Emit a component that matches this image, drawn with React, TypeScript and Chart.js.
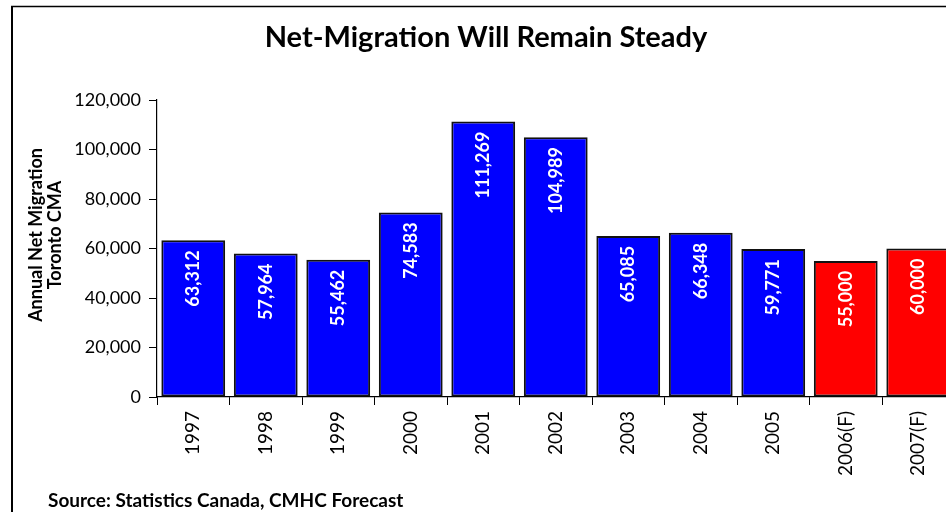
import React, { useEffect, useRef } from "react";
import { Chart, registerables } from "chart.js";

Chart.register(...registerables);

const categories = ["1997", "1998", "1999", "2000", "2001", "2002", "2003", "2004", "2005", "2006(F)", "2007(F)"];
const values = [63312, 57964, 55462, 74583, 111269, 104989, 65085, 66348, 59771, 55000, 60000];
const isForecast = [false, false, false, false, false, false, false, false, false, true, true];
const yMin = 0;
const yMax = 120000;
const yStep = 20000;
const titleText = "Net-Migration Will Remain Steady";
const yAxisTitleLines = ["Annual Net Migration", "Toronto CMA"];
const sourceText = "Source: Statistics Canada, CMHC Forecast";

const ACTUAL_COLOR = "#0000FF";
const FORECAST_COLOR = "#FF0000";
const FONT = "Lato, 'Open Sans', sans-serif";

const fmt = (v: number) => v.toLocaleString("en-US");

const decorPlugin = {
  id: "decor",
  beforeDraw(chart: any) {
    const ctx = chart.ctx;
    ctx.save();
    ctx.fillStyle = "#ffffff";
    ctx.fillRect(0, 0, chart.width, chart.height);
    ctx.strokeStyle = "#000";
    ctx.lineWidth = 2;
    ctx.beginPath();
    ctx.moveTo(12, chart.height + 5);
    ctx.lineTo(12, 6.5);
    ctx.stroke();
    ctx.lineWidth = 1.5;
    ctx.beginPath();
    ctx.moveTo(11, 6.5);
    ctx.lineTo(chart.width + 5, 6.5);
    ctx.stroke();
    ctx.restore();
  },
  afterDraw(chart: any) {
    const ctx = chart.ctx;
    ctx.save();
    ctx.fillStyle = "#000";
    // title
    ctx.font = `bold 29px ${FONT}`;
    ctx.textAlign = "center";
    ctx.textBaseline = "alphabetic";
    ctx.fillText(titleText, 486, 47);
    // source
    ctx.font = `bold 19px ${FONT}`;
    ctx.textAlign = "left";
    ctx.fillText(sourceText, 48, 507);
    // y axis title
    ctx.font = `bold 18px ${FONT}`;
    ctx.textAlign = "center";
    ctx.textBaseline = "middle";
    const xs = [36, 55];
    yAxisTitleLines.forEach((line, i) => {
      ctx.save();
      ctx.translate(xs[i], 235);
      ctx.rotate(-Math.PI / 2);
      ctx.fillText(line, 0, 0);
      ctx.restore();
    });
    ctx.restore();
  },
  afterDatasetsDraw(chart: any) {
    const ctx = chart.ctx;
    const meta = chart.getDatasetMeta(0);
    ctx.save();
    ctx.fillStyle = "#ffffff";
    ctx.font = `bold 18px ${FONT}`;
    ctx.textAlign = "right";
    ctx.textBaseline = "middle";
    meta.data.forEach((bar: any, i: number) => {
      ctx.save();
      ctx.translate(bar.x, bar.y + 10);
      ctx.rotate(-Math.PI / 2);
      ctx.fillText(fmt(values[i]), 0, 0);
      ctx.restore();
    });
    ctx.restore();
  },
};

export default function App() {
  const canvasRef = useRef<HTMLCanvasElement | null>(null);

  useEffect(() => {
    const canvas = canvasRef.current;
    if (!canvas) return;
    const chart = new Chart(canvas, {
      type: "bar",
      data: {
        labels: categories,
        datasets: [
          {
            data: values,
            backgroundColor: isForecast.map((f) => (f ? FORECAST_COLOR : ACTUAL_COLOR)),
            borderColor: "#111",
            borderWidth: 2,
            borderSkipped: false,
            barPercentage: 0.88,
            categoryPercentage: 1,
          },
        ],
      },
      plugins: [decorPlugin],
      options: {
        animation: false,
        responsive: false,
        devicePixelRatio: 1,
        layout: { padding: { top: 100, left: 0, right: 5.5, bottom: 0 } },
        plugins: {
          legend: { display: false },
          title: { display: false },
          tooltip: { enabled: false },
        },
        scales: {
          x: {
            offset: true,
            grid: {
              display: true,
              drawOnChartArea: false,
              drawTicks: true,
              tickLength: 8,
              color: "#000",
              offset: true,
            },
            border: { display: true, color: "#000", width: 1.2 },
            ticks: {
              color: "#000",
              font: { family: FONT, size: 19 },
              minRotation: 90,
              maxRotation: 90,
              autoSkip: false,
              padding: 6,
            },
            afterFit(scale: any) {
              scale.height = 115;
              scale.paddingLeft = 0;
              scale.paddingRight = 0;
            },
          },
          y: {
            min: yMin,
            max: yMax,
            grid: {
              display: true,
              drawOnChartArea: false,
              drawTicks: true,
              tickLength: 8,
              color: "#000",
            },
            border: { display: true, color: "#000", width: 1.2 },
            ticks: {
              stepSize: yStep,
              color: "#000",
              font: { family: FONT, size: 18 },
              padding: 8,
              callback: (v: any) => fmt(Number(v)),
            },
            afterFit(scale: any) {
              scale.width = 157;
              scale.paddingTop = 0;
              scale.paddingBottom = 0;
            },
          },
        },
      },
    });
    return () => chart.destroy();
  }, []);

  return (
    <div style={{ position: "fixed", left: 0, top: 0, width: 946, height: 512, overflow: "hidden", background: "#fff" }}>
      <canvas ref={canvasRef} width={960} height={512} style={{ display: "block" }} />
    </div>
  );
}
